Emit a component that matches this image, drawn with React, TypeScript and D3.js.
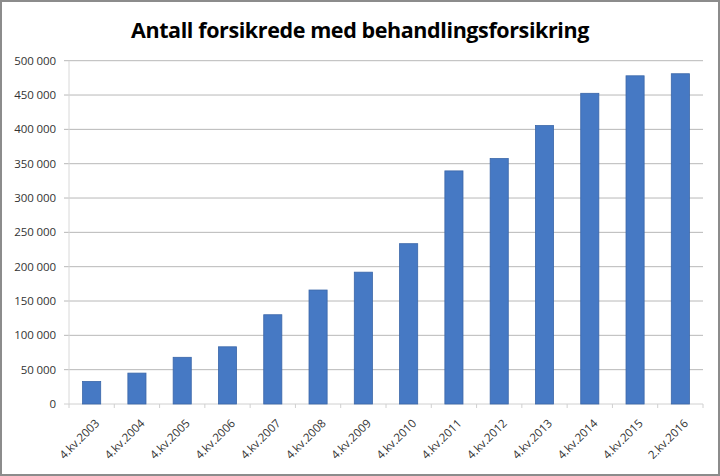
import React from "react";
import * as d3 from "d3";

const categories = [
  "4.kv.2003", "4.kv.2004", "4.kv.2005", "4.kv.2006", "4.kv.2007",
  "4.kv.2008", "4.kv.2009", "4.kv.2010", "4.kv.2011", "4.kv.2012",
  "4.kv.2013", "4.kv.2014", "4.kv.2015", "2.kv.2016",
];
const values = [
  32800, 45000, 68000, 83300, 130000, 166000, 192000, 233500, 339500,
  357500, 405500, 452500, 478000, 481000,
];
const yTicks = [0, 50000, 100000, 150000, 200000, 250000, 300000, 350000, 400000, 450000, 500000];
const title = "Antall forsikrede med behandlingsforsikring";

const W = 720;
const H = 476;
const left = 69;
const right = 703;
const top = 60.7;
const bottom = 404;

export default function App() {
  const x = d3.scaleBand<string>().domain(categories).range([left, right]).paddingInner(0.6).paddingOuter(0.3);
  const y = d3.scaleLinear().domain([0, 500000]).range([bottom, top]);
  const fmt = (v: number) => d3.format(",")(v).replace(/,/g, " ");
  const step = (right - left) / categories.length;
  const font = "'Open Sans', sans-serif";

  return (
    <svg width={W} height={H} style={{ position: "absolute", left: 0, top: 0, background: "#fff" }}>
      <rect x={1} y={1} width={W - 2} height={H - 2} fill="#fff" stroke="#8c8c8c" strokeWidth={2} />
      <text x={360} y={38} textAnchor="middle" fontFamily={font} fontWeight={700} fontSize={21.5} fill="#000" letterSpacing={-0.4}>
        {title}
      </text>
      {yTicks.map((t) => (
        <g key={t}>
          <line x1={64} x2={t === 0 ? left : right} y1={y(t)} y2={y(t)} stroke={t === 0 ? "#d0d0d0" : "#b8b8b8"} strokeWidth={1} />
          <text x={56} y={y(t)} dy="0.35em" textAnchor="end" fontFamily={font} fontSize={11.5} fill="#333" letterSpacing={-0.1}>
            {fmt(t)}
          </text>
        </g>
      ))}
      <line x1={left} x2={left} y1={top} y2={bottom} stroke="#d8d8d8" strokeWidth={1} />
      <line x1={left} x2={right} y1={bottom} y2={bottom} stroke="#d0d0d0" strokeWidth={1} />
      {d3.range(categories.length + 1).map((i) => (
        <line key={i} x1={left + i * step} x2={left + i * step} y1={bottom} y2={bottom + 4} stroke="#d0d0d0" />
      ))}
      {categories.map((c, i) => (
        <rect key={c} x={x(c)} y={y(values[i])} width={x.bandwidth()} height={bottom - y(values[i])} fill="#4679c4" stroke="#3a66a8" strokeWidth={0.8} />
      ))}
      {categories.map((c) => {
        const cx = (x(c) as number) + x.bandwidth() / 2;
        return (
          <text key={c} transform={`translate(${cx + 8.5},${bottom + 20}) rotate(-45)`} textAnchor="end" fontFamily={font} fontSize={11.5} fill="#333">
            {c}
          </text>
        );
      })}
    </svg>
  );
}
